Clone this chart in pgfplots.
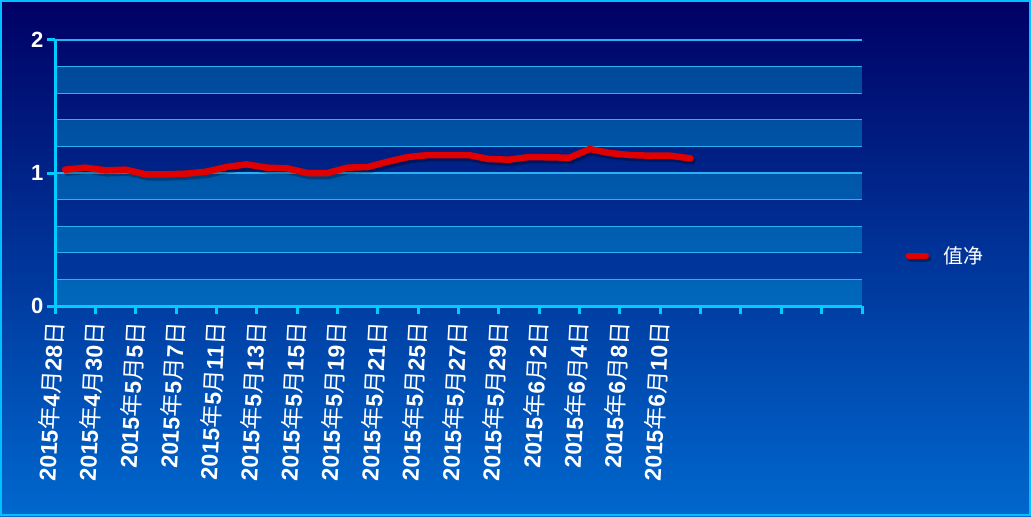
\documentclass[border=0pt]{standalone}
\usepackage{pgfplots}
\pgfplotsset{compat=1.18}
\usepackage{pgfplotstable}
\usepackage{fontspec}
\setmainfont{Liberation Sans}
\newfontfamily\cjk{Noto Sans CJK SC}

\definecolor{bgtop}{RGB}{0,0,100}
\definecolor{bgbot}{RGB}{0,104,206}
\definecolor{bordc}{RGB}{0,192,255}
\definecolor{axisc}{RGB}{0,204,255}
\definecolor{gridc}{RGB}{40,178,245}
\definecolor{bandc}{RGB}{0,180,230}
\definecolor{linered}{RGB}{225,0,0}

\newcommand{\dt}[2]{2015{\cjk\mdseries 年}#1{\cjk\mdseries 月}#2{\cjk\mdseries 日}}

% net value, one row per trading day (2015-04-28 .. 2015-06-11)
\pgfplotstableread{
i  v
0  1.025
1  1.040
2  1.020
3  1.025
4  0.990
5  0.990
6  0.995
7  1.010
8  1.045
9  1.065
10 1.040
11 1.035
12 1.000
13 1.000
14 1.040
15 1.045
16 1.085
17 1.120
18 1.135
19 1.135
20 1.135
21 1.105
22 1.100
23 1.120
24 1.118
25 1.115
26 1.180
27 1.150
28 1.135
29 1.130
30 1.130
31 1.110
}\navtable

\begin{document}
\begin{tikzpicture}
\begin{axis}[
    set layers,
    clip=false,
    scale only axis,
    width=807pt, height=266pt,
    xmin=-0.5, xmax=39.5,
    ymin=0, ymax=2,
    axis x line*=bottom, axis y line*=left,
    axis line style={draw=axisc, line width=3pt},
    xtick={-0.5,1.5,...,39.5},
    xticklabels={\dt{4}{28},\dt{4}{30},\dt{5}{5},\dt{5}{7},\dt{5}{11},\dt{5}{13},\dt{5}{15},\dt{5}{19},\dt{5}{21},\dt{5}{25},\dt{5}{27},\dt{5}{29},\dt{6}{2},\dt{6}{4},\dt{6}{8},\dt{6}{10}},
    ytick={0,1,2},
    minor ytick={0.2,0.4,0.6,0.8,1.2,1.4,1.6,1.8},
    ymajorgrids, yminorgrids,
    major grid style={draw=gridc, line width=1.3pt},
    minor grid style={draw=gridc, line width=1.3pt},
    tick align=outside,
    major tick length=8pt, minor tick length=0pt,
    tick style={draw=axisc, line width=3pt},
    /pgf/number format/assume math mode=true,
    xticklabel shift=5pt,
    x tick label style={rotate=87, anchor=east, text=white,
        font=\bfseries\fontsize{23}{23}\selectfont},
    y tick label style={text=white, font=\bfseries\fontsize{22}{22}\selectfont},
    legend style={at={(rel axis cs:1.05,0.188)}, anchor=west, draw=none, fill=none,
        text=white, font=\cjk\fontsize{20}{20}\selectfont},
    legend image code/.code={
        \draw[black, opacity=0.3, line width=6.5pt, line cap=round] (2pt,-3pt) -- (19pt,-3pt);
        \draw[linered, line width=6.5pt, line cap=round] (0pt,0pt) -- (17pt,0pt);
    },
]
\begin{pgfonlayer}{axis background}
\shade[top color=bgtop, bottom color=bgbot]
    (rel axis cs:-0.068154,-0.789474) rectangle (rel axis cs:1.209418,1.150376);
\draw[bordc, line width=2pt]
    ([shift={(1pt,1pt)}]rel axis cs:-0.068154,-0.789474) rectangle
    ([shift={(-1pt,-1pt)}]rel axis cs:1.209418,1.150376);
\fill[bandc, opacity=0.36] (axis cs:-0.5,0.0) rectangle (axis cs:39.5,0.2);
\fill[bandc, opacity=0.36] (axis cs:-0.5,0.4) rectangle (axis cs:39.5,0.6);
\fill[bandc, opacity=0.36] (axis cs:-0.5,0.8) rectangle (axis cs:39.5,1.0);
\fill[bandc, opacity=0.36] (axis cs:-0.5,1.2) rectangle (axis cs:39.5,1.4);
\fill[bandc, opacity=0.36] (axis cs:-0.5,1.6) rectangle (axis cs:39.5,1.8);
\end{pgfonlayer}

\addplot[black, opacity=0.28, line width=6.5pt, line join=round, line cap=round,
    xshift=2pt, yshift=-3pt, forget plot] table[x=i, y=v] {\navtable};
\addplot[linered, line width=6.5pt, line join=round, line cap=round]
    table[x=i, y=v] {\navtable};
\addlegendentry{\hspace{10pt}值净}
\end{axis}
\end{tikzpicture}
\end{document}
